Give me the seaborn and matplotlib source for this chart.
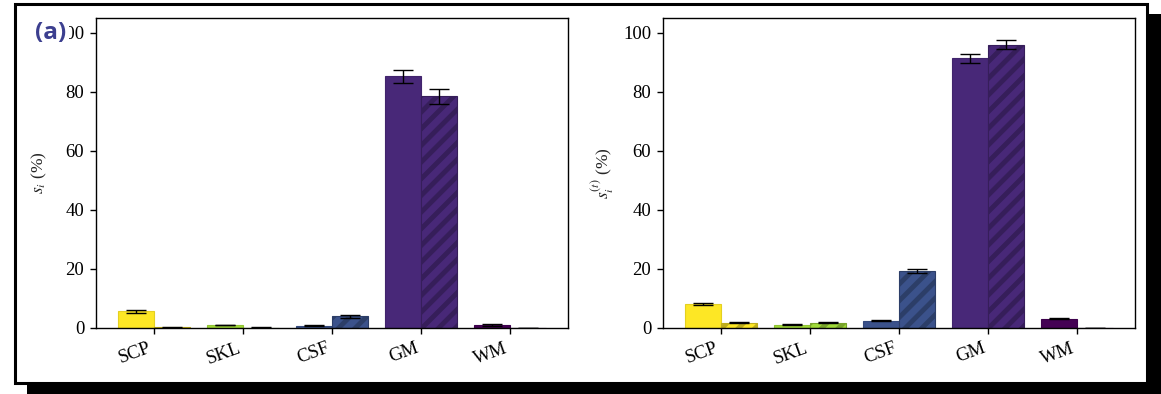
import matplotlib
matplotlib.use("Agg")
import matplotlib.pyplot as plt
from matplotlib.patches import Rectangle
from matplotlib.colors import to_rgb
import numpy as np
import pandas as pd
import seaborn as sns

# ---- data -------------------------------------------------------------
regions = ["SCP", "SKL", "CSF", "GM", "WM"]
groups = ["model 1", "model 2"]

# s_i (%)
s_model1 = [5.6, 1.0, 0.8, 85.2, 0.9]
s_model1_err = [0.5, 0.15, 0.2, 2.2, 0.3]
s_model2 = [0.2, 0.15, 4.0, 78.5, 0.1]
s_model2_err = [0.05, 0.05, 0.5, 2.5, 0.05]

# s_i^(t) (%)
st_model1 = [8.1, 1.1, 2.4, 91.4, 3.2]
st_model1_err = [0.3, 0.1, 0.15, 1.5, 0.2]
st_model2 = [1.8, 1.8, 19.4, 96.0, 0.1]
st_model2_err = [0.1, 0.1, 0.7, 1.5, 0.05]

region_colors = ["#fde725", "#a0da39", "#3b528b", "#482878", "#440154"]

# ---- style ------------------------------------------------------------
sns.set_style("ticks")
plt.rcParams["font.family"] = ["Liberation Serif", "DejaVu Serif"]
plt.rcParams["mathtext.fontset"] = "stix"
plt.rcParams["hatch.linewidth"] = 3.5
plt.rcParams["axes.edgecolor"] = "black"
plt.rcParams["axes.linewidth"] = 1.0
plt.rcParams["xtick.color"] = "black"
plt.rcParams["ytick.color"] = "black"

W, H = 1161, 394
fig = plt.figure(figsize=(W / 100, H / 100), dpi=100)

# shadowed frame around the panel (drawn beneath the axes)
fig.add_artist(Rectangle((27 / W, 0), 1 - 27 / W, (H - 14) / H,
                         transform=fig.transFigure, facecolor="black",
                         edgecolor="none", zorder=-2))
fig.add_artist(Rectangle((15 / W, 11 / H), (1147 - 15) / W, (383 - 4) / H,
                         transform=fig.transFigure, facecolor="white",
                         edgecolor="black", linewidth=2.2, zorder=-1))


def darker(c, f=0.75):
    r, g, b = to_rgb(c)
    return (r * f, g * f, b * f)


def draw_panel(ax, v1, e1, v2, e2, ylabel):
    df = pd.DataFrame({
        "region": regions * 2,
        "group": [groups[0]] * len(regions) + [groups[1]] * len(regions),
        "value": list(v1) + list(v2),
        "err": list(e1) + list(e2),
    })
    sns.barplot(data=df, x="region", y="value", hue="group", order=regions,
                hue_order=groups, errorbar=None, legend=False, width=0.8,
                ax=ax, zorder=2)
    for gi, (cont, g) in enumerate(zip(ax.containers, groups)):
        sub = df[df["group"] == g].set_index("region").loc[regions]
        for bar, col, (_, row) in zip(cont, region_colors, sub.iterrows()):
            bar.set_facecolor(col)
            bar.set_linewidth(0.8)
            if gi == 1:
                bar.set_hatch("//")
                bar.set_edgecolor(darker(col))
            else:
                bar.set_edgecolor(darker(col, 0.9))
            x = bar.get_x() + bar.get_width() / 2
            ax.errorbar(x, row["value"], yerr=row["err"], color="black",
                        elinewidth=1.0, capsize=7, capthick=1.0, zorder=3)
    ax.set_xlim(-0.65, 4.65)
    ax.set_ylim(0, 105)
    ax.set_yticks([0, 20, 40, 60, 80, 100])
    ax.set_xlabel("")
    ax.set_ylabel(ylabel, fontsize=12.5, labelpad=5)
    ax.tick_params(axis="both", labelsize=13.5, length=4.5, width=1.0, pad=4)
    ax.tick_params(axis="x", labelrotation=20)
    for lab in ax.get_xticklabels():
        lab.set_ha("right")
    for s in ax.spines.values():
        s.set_visible(True)
        s.set_color("black")


ax1 = fig.add_axes([96 / W, 66 / H, 472 / W, 310 / H])
ax2 = fig.add_axes([663 / W, 66 / H, 472 / W, 310 / H])
draw_panel(ax1, s_model1, s_model1_err, s_model2, s_model2_err,
           r"$s_i$ (%)")
draw_panel(ax2, st_model1, st_model1_err, st_model2, st_model2_err,
           r"$s_i^{(t)}$ (%)")

fig.text(35 / W, 1 - 33 / H, "(a)", ha="left", va="center", fontsize=17.5,
         fontweight="bold", family=["Open Sans", "DejaVu Sans"],
         color="#3c3f8f",
         bbox=dict(facecolor="white", edgecolor="none", pad=2.0), zorder=5)

fig.savefig("out.png", dpi=100)
